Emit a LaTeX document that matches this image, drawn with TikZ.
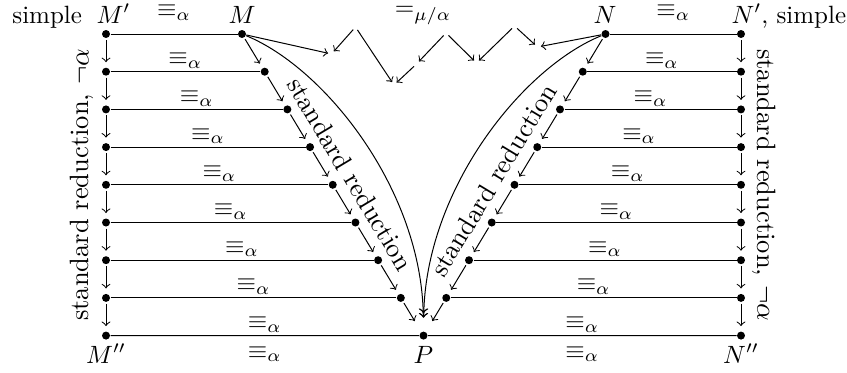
\documentclass[tikz,border=0pt]{standalone}
\usetikzlibrary{arrows}
\begin{document}
\begin{tikzpicture}[x=0.4pt,y=-0.4pt,
  dot/.style={circle,fill,inner sep=0pt,minimum size=3.2pt},
  inv/.style={circle,inner sep=0pt,minimum size=2.4pt},
  arr/.style={->,shorten <=0.6pt,shorten >=2pt},
  zz/.style={->},
  eqa/.style={anchor=base,inner sep=0pt},
  lab/.style={anchor=base,inner sep=0pt},
  rlab/.style={font=\fontsize{10.6}{12}\selectfont}]
\useasboundingbox (0,0) rectangle (847,373);
% dots
\foreach \i in {0,...,8}{
  \pgfmathsetmacro\yy{34+37.7*\i}
  \node[dot] (L\i) at (106,\yy) {};
  \node[dot] (R\i) at (741,\yy) {};
}
\foreach \i in {0,...,7}{
  \pgfmathsetmacro\yy{34+37.7*\i}
  \pgfmathsetmacro\xl{242+22.6875*\i}
  \pgfmathsetmacro\xr{605.5-22.75*\i}
  \node[dot] (DL\i) at (\xl,\yy) {};
  \node[dot] (DR\i) at (\xr,\yy) {};
}
\node[dot] (P) at (423.5,335.6) {};
% horizontal lines
\foreach \i in {0,...,7}{
  \draw (L\i) -- (DL\i);
  \draw (DR\i) -- (R\i);
}
\draw (L8) -- (P) -- (R8);
% labels on rows 1..7
\foreach \i in {1,...,7}{
  \pgfmathsetmacro\yy{34+37.7*\i-7}
  \pgfmathsetmacro\xl{(106+242+22.6875*\i)/2}
  \pgfmathsetmacro\xr{(741+605.5-22.75*\i)/2}
  \node[eqa] (qL\i) at (\xl,\yy) {$\equiv_\alpha$};
  \node[eqa] (qR\i) at (\xr,\yy) {$\equiv_\alpha$};
}
\node[eqa] (qL0) at (174,16.5) {$\equiv_\alpha$};
\node[eqa] (qR0) at (673.25,16.5) {$\equiv_\alpha$};
\node[eqa] (qL8) at (264.75,328.6) {$\equiv_\alpha$};
\node[eqa] (qR8) at (582.25,328.6) {$\equiv_\alpha$};
\node[eqa] (bL8) at (264.75,358) {$\equiv_\alpha$};
\node[eqa] (bR8) at (582.25,358) {$\equiv_\alpha$};
% vertical arrows
\foreach \i [evaluate=\i as \j using int(\i+1)] in {0,...,7}{
  \draw[arr] (L\i) -- (L\j);
  \draw[arr] (R\i) -- (R\j);
}
% diagonal arrows
\foreach \i [evaluate=\i as \j using int(\i+1)] in {0,...,6}{
  \draw[arr] (DL\i) -- (DL\j);
  \draw[arr] (DR\i) -- (DR\j);
}
\draw[arr,shorten >=5pt] (DL7) -- (P);
\draw[arr,shorten >=5pt] (DR7) -- (P);
% curved arrows
\draw[->>,shorten >=5.4pt] (DL0) .. controls (325,68) and (422,190) .. (P);
\draw[->>,shorten >=5.4pt] (DR0) .. controls (522,68) and (425,190) .. (P);
% node labels
\node[lab,anchor=base east] (simpL) at (82.5,23) {simple};
\node[lab,anchor=base west] (Mp) at (96,23) {$M'$};
\node[lab] (Mlab) at (242,23) {$M$};
\node[lab] (Nlab) at (605,23) {$N$};
\node[lab,anchor=base west] (Np) at (731,23) {$N'$, simple};
\node[lab] (Mpp) at (106,363) {$M''$};
\node[lab] (Plab) at (423.5,363) {$P$};
\node[lab] (Npp) at (741,363) {$N''$};
\node[lab] (mua) at (423,16) {$=_{\mu/\alpha}$};
% zigzag
\node[inv] (A) at (331.5,54) {};
\node[inv] (T1) at (355.5,27) {};
\node[inv] (B) at (394,85) {};
\node[inv] (C) at (416.5,64) {};
\node[inv] (T2) at (446,33) {};
\node[inv] (D) at (476.5,63) {};
\node[inv] (T3) at (514.5,26) {};
\node[inv] (E) at (537.5,47) {};
\draw[zz] (DL0) -- (A);
\draw[zz] (T1) -- (A);
\draw[zz] (T1) -- (B);
\draw[zz] (C) -- (B);
\draw[zz] (T2) -- (C);
\draw[zz] (T2) -- (D);
\draw[zz] (T3) -- (D);
\draw[zz] (T3) -- (E);
\draw[zz] (DR0) -- (E);
% rotated labels
\node[rlab,rotate=90] (sl) at (82,185) {standard reduction, $\neg\alpha$};
\node[rlab,rotate=-90] (sr) at (764,185) {standard reduction, $\neg\alpha$};
\path (DL0) -- (P) node[rlab,midway,sloped,above=1pt] (dl) {standard reduction};
\path (P) -- (DR0) node[rlab,pos=0.48,sloped,above=1pt] (dr) {standard reduction};
\end{tikzpicture}
\end{document}
